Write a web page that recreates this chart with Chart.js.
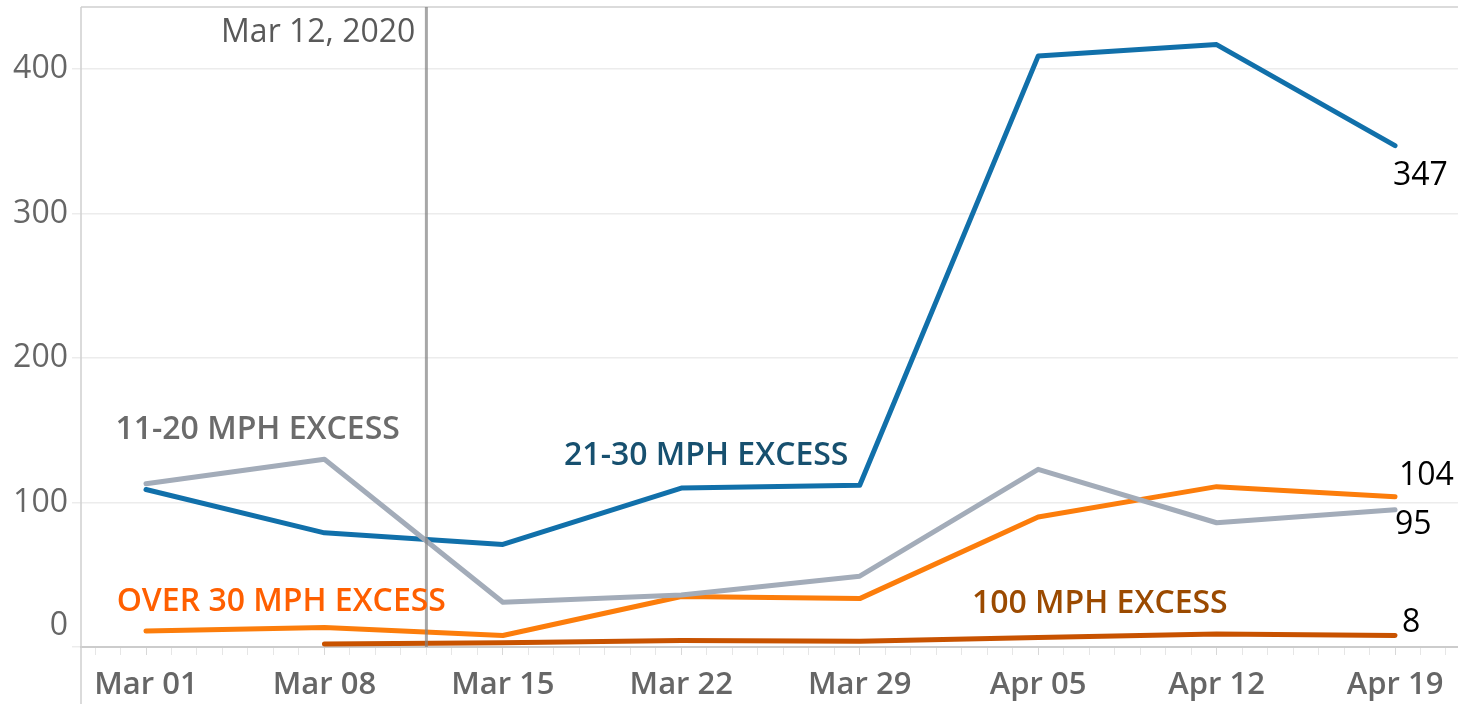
<!DOCTYPE html>
<html>
<head>
<meta charset="utf-8">
<script src="https://cdn.jsdelivr.net/npm/chart.js@4"></script>
<style>
  body { margin: 0; background: #fff; }
</style>
</head>
<body>
<canvas id="myChart" width="1458" height="704"></canvas>
<script>
const weeks = ['Mar 01', 'Mar 08', 'Mar 15', 'Mar 22', 'Mar 29', 'Apr 05', 'Apr 12', 'Apr 19'];
const week_days = [0, 7, 14, 21, 28, 35, 42, 49];
const excess_11_20 = [113, 130, 31, 36, 49, 123, 86, 95];
const excess_21_30 = [109, 79, 71, 110, 112, 409, 417, 347];
const excess_over_30 = [11, 13.5, 8, 35, 33.5, 90, 111, 104];
const excess_100 = [null, 2, 3, 4.5, 4, 6.5, 9, 8];
const y_ticks = [0, 100, 200, 300, 400];
const marker_day = 11;
const marker_text = 'Mar 12, 2020';

const FONT = '"Open Sans", "DejaVu Sans", sans-serif';

function to_points(values) {
        return values.map(function(v, i) {
                return {x: week_days[i], y: v};
        });
}

// name, line colour, text colour, label spot (day, value)
const series = [
        {name: '11-20 MPH EXCESS', values: excess_11_20, line: '#a3acb9', text: '#6b6b6b', spot: [-1.2, 150], end: [0, 15]},
        {name: 'OVER 30 MPH EXCESS', values: excess_over_30, line: '#fc7d0b', text: '#ff5f00', spot: [-1.15, 31.5], end: [4, -21]},
        {name: '100 MPH EXCESS', values: excess_100, line: '#c85200', text: '#9b4a00', spot: [32.4, 30], end: [7, -13]},
        {name: '21-30 MPH EXCESS', values: excess_21_30, line: '#1170aa', text: '#17506f', spot: [16.4, 132], end: [-2, 30]},
];

const extras = {
        id: 'extras',
        afterDatasetsDraw(chart) {
                const ctx = chart.ctx;
                const x = chart.scales.x;
                const y = chart.scales.y;
                const area = chart.chartArea;
                ctx.save();
                // frame: top and left
                ctx.strokeStyle = '#d0d0d0';
                ctx.lineWidth = 1.5;
                ctx.beginPath();
                ctx.moveTo(area.left, area.top);
                ctx.lineTo(area.right, area.top);
                ctx.moveTo(area.left, area.top);
                ctx.lineTo(area.left, chart.height);
                ctx.stroke();

                // marker line
                const mx = x.getPixelForValue(marker_day);
                ctx.strokeStyle = 'rgba(130,130,130,0.7)';
                ctx.lineWidth = 3;
                ctx.beginPath();
                ctx.moveTo(mx, area.top);
                ctx.lineTo(mx, area.bottom);
                ctx.stroke();
                ctx.fillStyle = '#595959';
                ctx.font = '32px ' + FONT;
                ctx.textAlign = 'right';
                ctx.textBaseline = 'middle';
                ctx.fillText(marker_text, mx - 11, area.top + 26);

                // zero label, lifted above the axis
                ctx.fillStyle = '#666';
                ctx.textAlign = 'right';
                ctx.fillText('0', area.left - 13, y.getPixelForValue(0) - 21);

                // series labels and end values
                for (const s of series) {
                        ctx.font = '600 32px ' + FONT;
                        ctx.fillStyle = s.text;
                        ctx.textAlign = 'left';
                        ctx.fillText(s.name, x.getPixelForValue(s.spot[0]), y.getPixelForValue(s.spot[1]));
                        const last = s.values[s.values.length - 1];
                        ctx.font = '32px ' + FONT;
                        ctx.fillStyle = '#000';
                        ctx.fillText(String(last), x.getPixelForValue(49) + s.end[0], y.getPixelForValue(last) + s.end[1]);
                }
                ctx.restore();
        }
};

const data = {
        datasets: series.map(function(s) {
                return {
                        label: s.name,
                        data: to_points(s.values),
                        borderColor: s.line,
                        backgroundColor: s.line,
                        borderWidth: 5,
                        borderCapStyle: 'round',
                        borderJoinStyle: 'round',
                        pointRadius: 0,
                        spanGaps: false,
                        clip: false,
                };
        })
};

const config = {
        type: 'line',
        data: data,
        plugins: [extras],
        options: {
                responsive: false,
                animation: false,
                layout: {padding: {top: 7, left: 0, right: 0, bottom: 0}},
                plugins: {legend: {display: false}, tooltip: {enabled: false}},
                scales: {
                        x: {
                                type: 'linear',
                                min: -2.55,
                                max: 51.47,
                                afterFit: function(scale) { scale.height = 57; },
                                grid: {
                                        drawOnChartArea: false,
                                        drawTicks: true,
                                        tickLength: 8,
                                        color: function(c) { return c.tick && c.tick.value % 7 === 0 ? '#d8d8d8' : '#e6e6e6'; },
                                },
                                border: {display: true, color: '#cccccc', width: 2},
                                ticks: {
                                        stepSize: 1,
                                        includeBounds: false,
                                        autoSkip: false,
                                        maxRotation: 0,
                                        padding: 12,
                                        color: '#666',
                                        font: {family: FONT, size: 31, weight: '600'},
                                        callback: function(v) {
                                                return v % 7 === 0 && v >= 0 && v <= 49 ? weeks[v / 7] : '';
                                        }
                                }
                        },
                        y: {
                                min: 0,
                                max: 443,
                                afterFit: function(scale) {
                                        scale.width = 81;
                                        scale.paddingTop = 0;
                                        scale.paddingBottom = 0;
                                },
                                grid: {color: '#ececec', lineWidth: 1.5, tickLength: 9, drawTicks: true},
                                border: {display: false},
                                ticks: {
                                        stepSize: 100,
                                        includeBounds: false,
                                        padding: 4,
                                        color: '#666',
                                        font: {family: FONT, size: 32},
                                        callback: function(v) {
                                                return y_ticks.includes(v) && v !== 0 ? String(v) : '';
                                        }
                                }
                        }
                }
        }
};

const myChart = new Chart(document.getElementById('myChart'), config);
</script>
</body>
</html>
